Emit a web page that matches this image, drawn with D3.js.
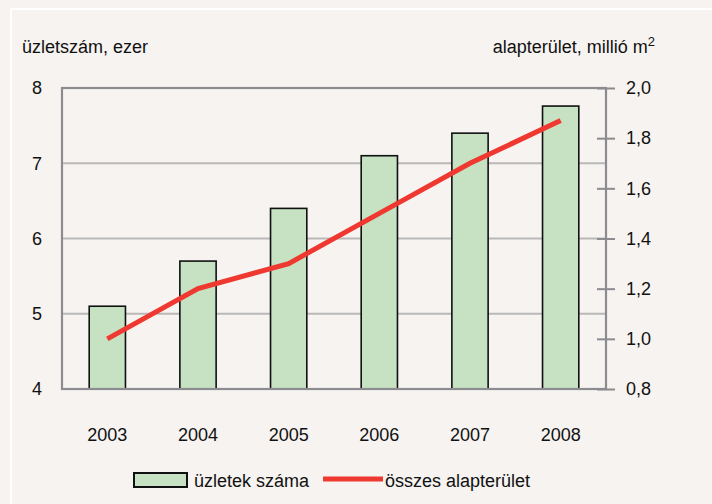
<!doctype html>
<html>
<head>
<meta charset="utf-8">
<script src="https://cdn.jsdelivr.net/npm/d3@7"></script>
<style>
  html, body { margin: 0; padding: 0; background: #f6f3f0; }
  text { font-family: "Liberation Sans", Arial, sans-serif; fill: #111; }
</style>
</head>
<body>
<div id="chart"></div>
<script>
// adatok
var years = ["2003", "2004", "2005", "2006", "2007", "2008"];
var uzletek = [5.1, 5.7, 6.4, 7.1, 7.4, 7.76];      // ezer
var alapterulet = [1.0, 1.2, 1.3, 1.5, 1.7, 1.87];  // millió m2
var leftTicks = [4, 5, 6, 7, 8];
var rightTicks = [0.8, 1.0, 1.2, 1.4, 1.6, 1.8, 2.0];

var W = 712, H = 504;
var plot = { left: 62, right: 606, top: 88, bottom: 389 };
var fs = 18;

var svg = d3.select("#chart").append("svg")
  .attr("width", W).attr("height", H);

// panel
svg.append("rect").attr("width", W).attr("height", H).attr("fill", "#f6f3f0");
svg.append("rect")
  .attr("x", 11).attr("y", 9).attr("width", W).attr("height", H)
  .attr("fill", "none").attr("stroke", "#ffffff").attr("stroke-width", 2);

var x = d3.scaleBand().domain(years)
  .range([plot.left, plot.right])
  .paddingInner(0.6).paddingOuter(0.3);
var yL = d3.scaleLinear().domain([4, 8]).range([plot.bottom, plot.top]);
var yR = d3.scaleLinear().domain([0.8, 2.0]).range([plot.bottom, plot.top]);

// rácsvonalak
svg.append("g").selectAll("line")
  .data(leftTicks.filter(function(d) { return d > 4 && d < 8; }))
  .join("line")
  .attr("x1", plot.left).attr("x2", plot.right)
  .attr("y1", function(d) { return yL(d); })
  .attr("y2", function(d) { return yL(d); })
  .attr("stroke", "#b9b9b9").attr("stroke-width", 2);

// oszlopok
svg.append("g").selectAll("rect")
  .data(uzletek)
  .join("rect")
  .attr("x", function(d, i) { return x(years[i]); })
  .attr("y", function(d) { return yL(d); })
  .attr("width", x.bandwidth())
  .attr("height", function(d) { return yL(4) - yL(d); })
  .attr("fill", "#c6e2c2")
  .attr("stroke", "#111").attr("stroke-width", 1.6);

// keret
svg.append("rect")
  .attr("x", plot.left).attr("y", plot.top)
  .attr("width", plot.right - plot.left).attr("height", plot.bottom - plot.top)
  .attr("fill", "none").attr("stroke", "#8b8b90").attr("stroke-width", 2.2);

// vonal
var line = d3.line()
  .x(function(d, i) { return x(years[i]) + x.bandwidth() / 2; })
  .y(function(d) { return yR(d); });
svg.append("path")
  .datum(alapterulet)
  .attr("d", line)
  .attr("fill", "none")
  .attr("stroke", "#ee3830").attr("stroke-width", 5);

// bal tengely
var axL = svg.append("g")
  .attr("transform", "translate(" + plot.left + ",0)")
  .call(d3.axisLeft(yL).tickValues(leftTicks).tickSize(0).tickPadding(20)
    .tickFormat(d3.format("d")));
axL.select(".domain").remove();
axL.selectAll("text").attr("font-size", fs).attr("font-family", null);

// jobb tengely
var axR = svg.append("g")
  .attr("transform", "translate(" + plot.right + ",0)")
  .call(d3.axisRight(yR).tickValues(rightTicks).tickSize(9).tickPadding(11)
    .tickFormat(function(d) { return d3.format(".1f")(d).replace(".", ","); }));
axR.select(".domain").remove();
axR.selectAll("line").attr("x1", -9).attr("stroke", "#8b8b90").attr("stroke-width", 2);
axR.selectAll("text").attr("font-size", fs).attr("font-family", null);

// x tengely
var axX = svg.append("g")
  .attr("transform", "translate(0," + plot.bottom + ")")
  .call(d3.axisBottom(x).tickSize(0).tickPadding(39));
axX.select(".domain").remove();
axX.selectAll("text").attr("font-size", fs).attr("font-family", null);

// tengelycímek
svg.append("text")
  .attr("x", 22).attr("y", 53)
  .attr("font-size", fs)
  .text("üzletszám, ezer");
var rt = svg.append("text")
  .attr("x", 655).attr("y", 53)
  .attr("text-anchor", "end")
  .attr("font-size", fs);
rt.append("tspan").text("alapterület, millió m");
rt.append("tspan").attr("font-size", 13).attr("dy", -7).text("2");

// jelmagyarázat
var lg = svg.append("g");
lg.append("rect")
  .attr("x", 134).attr("y", 473).attr("width", 53).attr("height", 14)
  .attr("fill", "#c6e2c2").attr("stroke", "#111").attr("stroke-width", 2);
lg.append("text")
  .attr("x", 194).attr("y", 487).attr("font-size", fs)
  .text("üzletek száma");
lg.append("line")
  .attr("x1", 323).attr("x2", 383).attr("y1", 479).attr("y2", 479)
  .attr("stroke", "#ee3830").attr("stroke-width", 5);
lg.append("text")
  .attr("x", 385).attr("y", 487).attr("font-size", fs)
  .text("összes alapterület");
</script>
</body>
</html>
